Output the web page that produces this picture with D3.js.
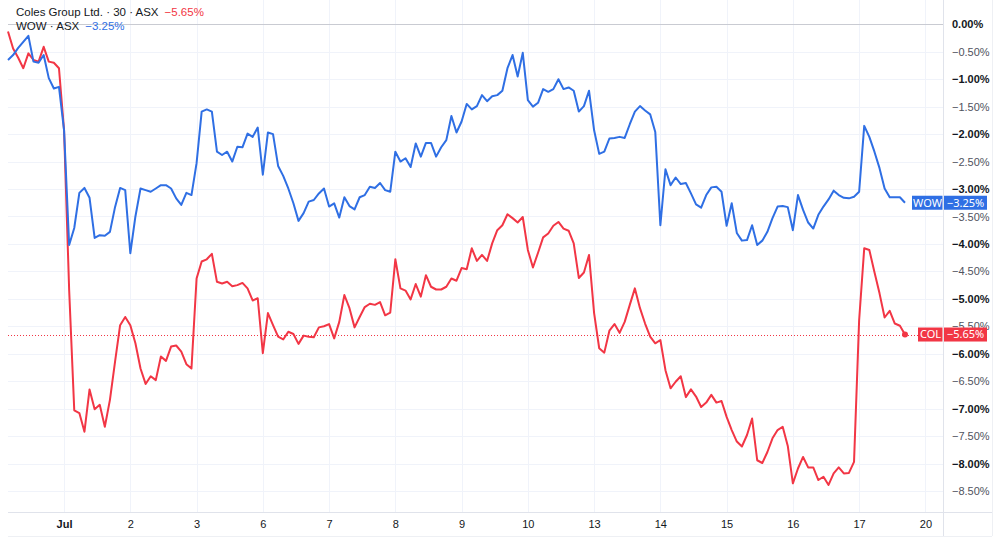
<!DOCTYPE html>
<html>
<head>
<meta charset="utf-8">
<script src="https://cdn.jsdelivr.net/npm/d3@7"></script>
<style>
  body { margin: 0; background: #fff; }
  svg { display: block; font-family: "Noto Sans", "DejaVu Sans", sans-serif; }
</style>
</head>
<body>
<svg id="chart" width="1000" height="542"></svg>
<script>
// 30-minute bars, 13 per trading day (Jun 30 shows its last 11)
const dayLabels = ["Jul", "2", "3", "6", "7", "8", "9", "10", "13", "14", "15", "16", "17", "20"];
const dayStarts = [11, 24, 37, 50, 63, 76, 89, 102, 115, 128, 141, 154, 167, 180];

const yTicks = [0, -0.5, -1, -1.5, -2, -2.5, -3, -3.5, -4, -4.5, -5, -5.5, -6, -6.5, -7, -7.5, -8, -8.5];

// WOW · ASX, % change
const wow = [
  -0.65, -0.56, -0.43, -0.32, -0.21, -0.68, -0.70, -0.56, -0.98, -1.17, -1.14,
  -1.93, -4.02, -3.71, -3.07, -2.98, -3.16, -3.89, -3.84, -3.85, -3.78, -3.33, -2.98, -3.02,
  -4.17, -3.50, -2.99, -3.02, -3.05, -2.99, -2.93, -2.93, -2.99, -3.17, -3.29, -3.07, -3.11,
  -2.53, -1.59, -1.55, -1.59, -2.32, -2.38, -2.32, -2.50, -2.23, -2.24, -1.99, -2.05, -1.88,
  -2.74, -1.97, -2.00, -2.58, -2.76, -2.99, -3.26, -3.58, -3.44, -3.23, -3.20, -3.08, -2.99,
  -3.32, -3.26, -3.52, -3.15, -3.31, -3.37, -3.15, -3.11, -2.96, -2.98, -2.89, -3.02, -3.05,
  -2.32, -2.50, -2.44, -2.60, -2.17, -2.41, -2.16, -2.16, -2.41, -2.24, -2.11, -1.67, -1.97,
  -1.77, -1.45, -1.55, -1.49, -1.29, -1.40, -1.31, -1.29, -1.21, -0.80, -0.56, -0.95, -0.52,
  -1.38, -1.50, -1.43, -1.18, -1.23, -1.18, -1.00, -1.18, -1.15, -1.21, -1.59, -1.49, -1.21,
  -1.93, -2.36, -2.32, -2.08, -2.07, -2.05, -2.07, -1.82, -1.59, -1.49, -1.57, -1.64, -1.96,
  -3.66, -2.64, -2.93, -2.79, -2.91, -2.89, -3.08, -3.28, -3.34, -3.11, -2.97, -2.96, -3.05,
  -3.67, -3.26, -3.80, -3.94, -3.93, -3.66, -4.02, -3.94, -3.78, -3.53, -3.32, -3.31, -3.33,
  -3.75, -3.11, -3.38, -3.61, -3.72, -3.47, -3.32, -3.19, -3.03, -3.11, -3.16, -3.17, -3.14,
  -3.05, -1.85, -2.05, -2.32, -2.62, -2.99, -3.15, -3.15, -3.15, -3.25
];

// Coles Group Ltd. · 30 · ASX, % change
const col = [
  -0.13, -0.44, -0.61, -0.80, -0.53, -0.65, -0.68, -0.41, -0.68, -0.70, -0.80,
  -1.93, -4.84, -7.03, -7.08, -7.42, -6.65, -7.01, -6.93, -7.33, -6.84, -6.15, -5.48, -5.33,
  -5.48, -5.81, -6.27, -6.55, -6.41, -6.48, -6.05, -6.13, -5.87, -5.85, -5.96, -6.19, -6.27,
  -4.63, -4.32, -4.28, -4.18, -4.69, -4.72, -4.69, -4.77, -4.75, -4.71, -4.81, -5.03, -4.99,
  -5.99, -5.26, -5.48, -5.69, -5.74, -5.60, -5.64, -5.82, -5.67, -5.69, -5.70, -5.52, -5.50,
  -5.46, -5.72, -5.42, -4.93, -5.17, -5.52, -5.33, -5.15, -5.09, -5.11, -5.06, -5.30, -5.25,
  -4.28, -4.81, -4.85, -5.01, -4.73, -4.96, -4.57, -4.78, -4.83, -4.83, -4.78, -4.63, -4.67,
  -4.44, -4.46, -4.08, -4.31, -4.20, -4.31, -3.99, -3.75, -3.66, -3.46, -3.53, -3.61, -3.51,
  -4.11, -4.43, -4.16, -3.88, -3.81, -3.67, -3.60, -3.72, -3.76, -3.99, -4.62, -4.52, -4.20,
  -5.26, -5.90, -5.98, -5.58, -5.46, -5.62, -5.42, -5.11, -4.81, -5.17, -5.45, -5.69, -5.81,
  -5.75, -6.30, -6.63, -6.51, -6.41, -6.79, -6.65, -6.78, -6.97, -6.89, -6.75, -6.89, -6.86,
  -7.15, -7.39, -7.60, -7.69, -7.48, -7.18, -7.94, -7.99, -7.79, -7.54, -7.39, -7.33, -7.68,
  -8.36, -8.09, -7.88, -8.07, -8.07, -8.30, -8.24, -8.39, -8.18, -8.07, -8.18, -8.17, -7.97,
  -5.39, -4.08, -4.11, -4.51, -4.90, -5.34, -5.22, -5.45, -5.49, -5.65
];

const series = [
  { key: "COL", values: col, color: "#f23645", title: "Coles Group Ltd. · 30 · ASX" },
  { key: "WOW", values: wow, color: "#2f6fe4", title: "WOW · ASX" }
];

const svg = d3.select("#chart");
const plotLeft = 8, plotRight = 943, axisRight = 992;
const plotBottom = 512, axisBottom = 536;

const x = d3.scaleLinear().domain([0, wow.length - 1]).range([8, 905]);
const y = d3.scaleLinear().domain([0, -8.5]).range([24.3, 491]);

const fmt = v => (v < 0 ? "\u2212" : "") + Math.abs(v).toFixed(2) + "%";

// grid
const grid = svg.append("g");
grid.selectAll(".hg").data(yTicks).enter().append("line")
  .attr("x1", plotLeft).attr("x2", plotRight)
  .attr("y1", d => Math.round(y(d)) + 0.5).attr("y2", d => Math.round(y(d)) + 0.5)
  .attr("stroke", "#f0f3fa");
grid.selectAll(".vg").data(dayStarts).enter().append("line")
  .attr("x1", d => Math.round(x(d)) + 0.5).attr("x2", d => Math.round(x(d)) + 0.5)
  .attr("y1", 0).attr("y2", plotBottom)
  .attr("stroke", "#f0f3fa");

// zero line
svg.append("line")
  .attr("x1", plotLeft).attr("x2", plotRight)
  .attr("y1", Math.round(y(0)) + 0.5).attr("y2", Math.round(y(0)) + 0.5)
  .attr("stroke", "#c9cbd2");

// frame
const frame = svg.append("g").attr("stroke", "#e0e3eb").attr("fill", "none");
frame.append("line").attr("x1", plotLeft).attr("x2", axisRight).attr("y1", plotBottom + 0.5).attr("y2", plotBottom + 0.5);
frame.append("line").attr("x1", plotLeft).attr("x2", axisRight).attr("y1", axisBottom + 0.5).attr("y2", axisBottom + 0.5).attr("stroke", "#eef0f4");
frame.append("line").attr("x1", plotRight + 0.5).attr("x2", plotRight + 0.5).attr("y1", 0).attr("y2", axisBottom);
frame.append("line").attr("x1", axisRight + 0.5).attr("x2", axisRight + 0.5).attr("y1", 0).attr("y2", axisBottom).attr("stroke", "#eef0f4");

// dotted last-price line for COL
const lastCol = col[col.length - 1];
svg.append("line")
  .attr("x1", plotLeft).attr("x2", plotRight)
  .attr("y1", Math.round(y(lastCol)) + 0.5).attr("y2", Math.round(y(lastCol)) + 0.5)
  .attr("stroke", "#f23645").attr("stroke-width", 1).attr("stroke-dasharray", "1,2");

// lines
const line = d3.line().x((d, i) => x(i)).y(d => y(d));
series.forEach(s => {
  svg.append("path")
    .datum(s.values)
    .attr("fill", "none")
    .attr("stroke", s.color)
    .attr("stroke-width", 2)
    .attr("stroke-linejoin", "round")
    .attr("d", line);
});

svg.append("circle")
  .attr("cx", x(col.length - 1)).attr("cy", y(lastCol))
  .attr("r", 3).attr("fill", "#f23645");

// right axis (the -5.50% label sits behind the COL tag, as in the original)
const yAxis = svg.append("g")
  .attr("transform", `translate(${plotRight},0)`)
  .call(d3.axisRight(y).tickValues(yTicks).tickSize(0).tickPadding(9).tickFormat(fmt));
yAxis.select(".domain").remove();
yAxis.selectAll("text")
  .style("font-size", "11px")
  .style("font-weight", d => (d % 1 === 0 ? "bold" : "normal"))
  .attr("fill", d => (d % 1 === 0 ? "#131722" : "#50535e"));

// bottom axis
const xAxis = svg.append("g")
  .attr("transform", `translate(0,${plotBottom})`)
  .call(d3.axisBottom(x).tickValues(dayStarts).tickSize(0).tickPadding(8)
    .tickFormat((d, i) => dayLabels[i]));
xAxis.select(".domain").remove();
xAxis.selectAll("text")
  .attr("fill", "#131722")
  .style("font-size", "11px")
  .style("font-weight", (d, i) => (dayLabels[i] === "Jul" ? "bold" : "normal"));

// last value tags on price scale
series.forEach(s => {
  const v = s.values[s.values.length - 1];
  const tag = svg.append("g").attr("transform", `translate(0,${y(v)})`);
  const nameW = s.key === "WOW" ? 31 : 25;
  tag.append("rect").attr("x", plotRight - nameW).attr("y", -7).attr("width", nameW - 0.5).attr("height", 14).attr("fill", s.color);
  tag.append("rect").attr("x", plotRight + 1).attr("y", -7).attr("width", 43).attr("height", 14).attr("fill", s.color);
  tag.append("text").attr("x", plotRight - nameW / 2).attr("dy", "0.35em")
    .attr("text-anchor", "middle").attr("fill", "#fff").style("font-size", "11px").text(s.key);
  tag.append("text").attr("x", plotRight + 22.5).attr("dy", "0.35em")
    .attr("text-anchor", "middle").attr("fill", "#fff").style("font-size", "11px").text(fmt(v));
});

// legend
const legend = svg.append("g")
  .style("font-family", "'Liberation Sans', Arial, sans-serif")
  .style("font-size", "11.5px");
series.forEach((s, i) => {
  const t = legend.append("text").attr("x", 16).attr("y", 16 + i * 14);
  t.append("tspan").attr("fill", "#131722").text(s.title);
  t.append("tspan").attr("dx", 6).attr("fill", s.color).text(fmt(s.values[s.values.length - 1]));
});
</script>
</body>
</html>
